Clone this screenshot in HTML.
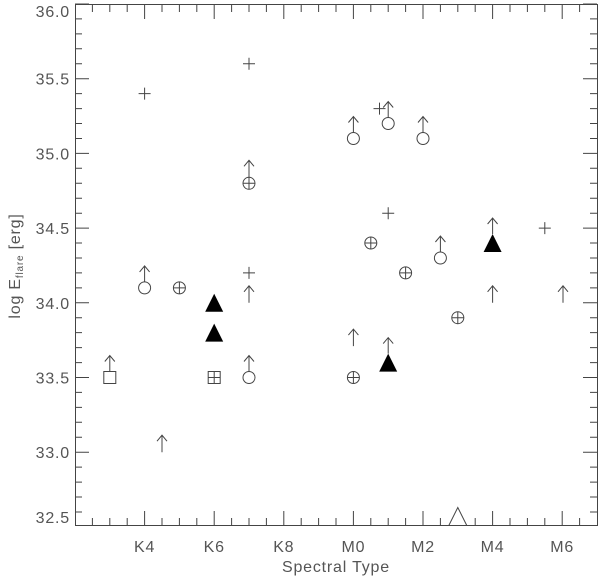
<!DOCTYPE html><html><head><style>body{margin:0;background:#fff}</style></head><body>
<svg width="600" height="577" xmlns="http://www.w3.org/2000/svg" font-family="Liberation Sans, DejaVu Sans, sans-serif">
<defs>
<g id="p" fill="none" stroke="#444"><path d="M-6 0H6M0 -6V6"/></g>
<g id="c" fill="none" stroke="#444"><circle r="6"/></g>
<g id="cp" fill="none" stroke="#444"><circle r="6"/><path d="M-6 0H6M0 -6V6"/></g>
<g id="a" fill="none" stroke="#444"><path d="M0 0V-17M-5 -11L0 -17L5 -11"/></g>
<g id="ca" fill="none" stroke="#444"><circle r="6"/><path d="M0 -6V-22M-5 -16L0 -22L5 -16"/></g>
<g id="ft"><polygon points="-9,9 9,9 0,-9" fill="#000"/></g>
<g id="fta"><polygon points="-9,9 9,9 0,-9" fill="#000"/><path d="M0 -9V-25M-5 -19L0 -25L5 -19" fill="none" stroke="#444"/></g>
</defs>
<g stroke="#444" stroke-width="1" fill="none">
<rect x="75.5" y="4.5" width="522" height="521"/>
<path d="M75 4h14M75 18.9h7M75 33.9h7M75 48.8h7M75 63.8h7M75 78.7h14M75 93.6h7M75 108.6h7M75 123.5h7M75 138.5h7M75 153.4h14M75 168.3h7M75 183.3h7M75 198.2h7M75 213.2h7M75 228.1h14M75 243h7M75 258h7M75 272.9h7M75 287.9h7M75 302.8h14M75 317.7h7M75 332.6h7M75 347.6h7M75 362.6h7M75 377.5h14M75 392.4h7M75 407.4h7M75 422.3h7M75 437.3h7M75 452.2h14M75 467.1h7M75 482.1h7M75 497h7M75 512h7"/>
<path d="M597 4h-14M597 18.9h-7M597 33.9h-7M597 48.8h-7M597 63.8h-7M597 78.7h-14M597 93.6h-7M597 108.6h-7M597 123.5h-7M597 138.5h-7M597 153.4h-14M597 168.3h-7M597 183.3h-7M597 198.2h-7M597 213.2h-7M597 228.1h-14M597 243h-7M597 258h-7M597 272.9h-7M597 287.9h-7M597 302.8h-14M597 317.7h-7M597 332.6h-7M597 347.6h-7M597 362.6h-7M597 377.5h-14M597 392.4h-7M597 407.4h-7M597 422.3h-7M597 437.3h-7M597 452.2h-14M597 467.1h-7M597 482.1h-7M597 497h-7M597 512h-7"/>
<path d="M92.4 525v-7M109.8 525v-7M127.2 525v-7M144.6 525v-14M162 525v-7M179.4 525v-7M196.8 525v-7M214.2 525v-14M231.6 525v-7M249 525v-7M266.4 525v-7M283.8 525v-14M301.2 525v-7M318.6 525v-7M336 525v-7M353.4 525v-14M370.8 525v-7M388.2 525v-7M405.6 525v-7M423 525v-14M440.4 525v-7M457.8 525v-7M475.2 525v-7M492.6 525v-14M510 525v-7M527.4 525v-7M544.8 525v-7M562.2 525v-14M579.6 525v-7"/>
<path d="M92.4 5v7M109.8 5v7M127.2 5v7M144.6 5v14M162 5v7M179.4 5v7M196.8 5v7M214.2 5v14M231.6 5v7M249 5v7M266.4 5v7M283.8 5v14M301.2 5v7M318.6 5v7M336 5v7M353.4 5v14M370.8 5v7M388.2 5v7M405.6 5v7M423 5v14M440.4 5v7M457.8 5v7M475.2 5v7M492.6 5v14M510 5v7M527.4 5v7M544.8 5v7M562.2 5v14M579.6 5v7"/>
<rect x="103.8" y="371.5" width="12" height="12"/>
<path d="M109.8 371.5V355.5M104.8 361.5L109.8 355.5L114.8 361.5"/>
<rect x="208.2" y="371.5" width="12" height="12"/>
<path d="M208.2 377.5H220.2M214.2 371.5V383.5"/>
<polygon points="448.8,525.5 466.8,525.5 457.8,507.5" fill="#fff"/>
</g>
<use href="#p" x="144.6" y="93.6"/>
<use href="#ca" x="144.6" y="287.9"/>
<use href="#a" x="162" y="452.2"/>
<use href="#cp" x="179.4" y="287.9"/>
<use href="#ft" x="214.2" y="302.8"/>
<use href="#ft" x="214.2" y="332.6"/>
<use href="#p" x="249" y="63.8"/>
<use href="#cp" x="249" y="183.3"/>
<use href="#a" x="249" y="177.3"/>
<use href="#p" x="249" y="272.9"/>
<use href="#a" x="249" y="302.8"/>
<use href="#ca" x="249" y="377.5"/>
<use href="#ca" x="353.4" y="138.5"/>
<use href="#a" x="353.4" y="346.1"/>
<use href="#cp" x="353.4" y="377.5"/>
<use href="#cp" x="370.8" y="243"/>
<use href="#p" x="379.5" y="108.6"/>
<use href="#ca" x="388.2" y="123.5"/>
<use href="#p" x="388.2" y="213.2"/>
<use href="#fta" x="388.2" y="362.6"/>
<use href="#cp" x="405.6" y="272.9"/>
<use href="#ca" x="423" y="138.5"/>
<use href="#ca" x="440.4" y="258"/>
<use href="#cp" x="457.8" y="317.7"/>
<use href="#fta" x="492.6" y="243"/>
<use href="#a" x="492.6" y="302.8"/>
<use href="#p" x="544.8" y="228.1"/>
<use href="#a" x="563" y="302.8"/>
<g fill="#555" font-size="16" letter-spacing="0.8">
<text x="70" y="17" text-anchor="end">36.0</text>
<text x="70" y="84.7" text-anchor="end">35.5</text>
<text x="70" y="159.4" text-anchor="end">35.0</text>
<text x="70" y="234.1" text-anchor="end">34.5</text>
<text x="70" y="308.8" text-anchor="end">34.0</text>
<text x="70" y="383.5" text-anchor="end">33.5</text>
<text x="70" y="458.2" text-anchor="end">33.0</text>
<text x="70" y="523" text-anchor="end">32.5</text>
<g text-anchor="middle">
<text x="144.6" y="552">K4</text><text x="214.2" y="552">K6</text><text x="283.8" y="552">K8</text><text x="353.4" y="552">M0</text><text x="423" y="552">M2</text><text x="492.6" y="552">M4</text><text x="562.2" y="552">M6</text>
<text x="336" y="572">Spectral Type</text>
<text transform="translate(20,266) rotate(-90)">log E<tspan font-size="10" dy="3">flare</tspan><tspan dy="-3"> [erg]</tspan></text>
</g></g>
</svg>
</body></html>
